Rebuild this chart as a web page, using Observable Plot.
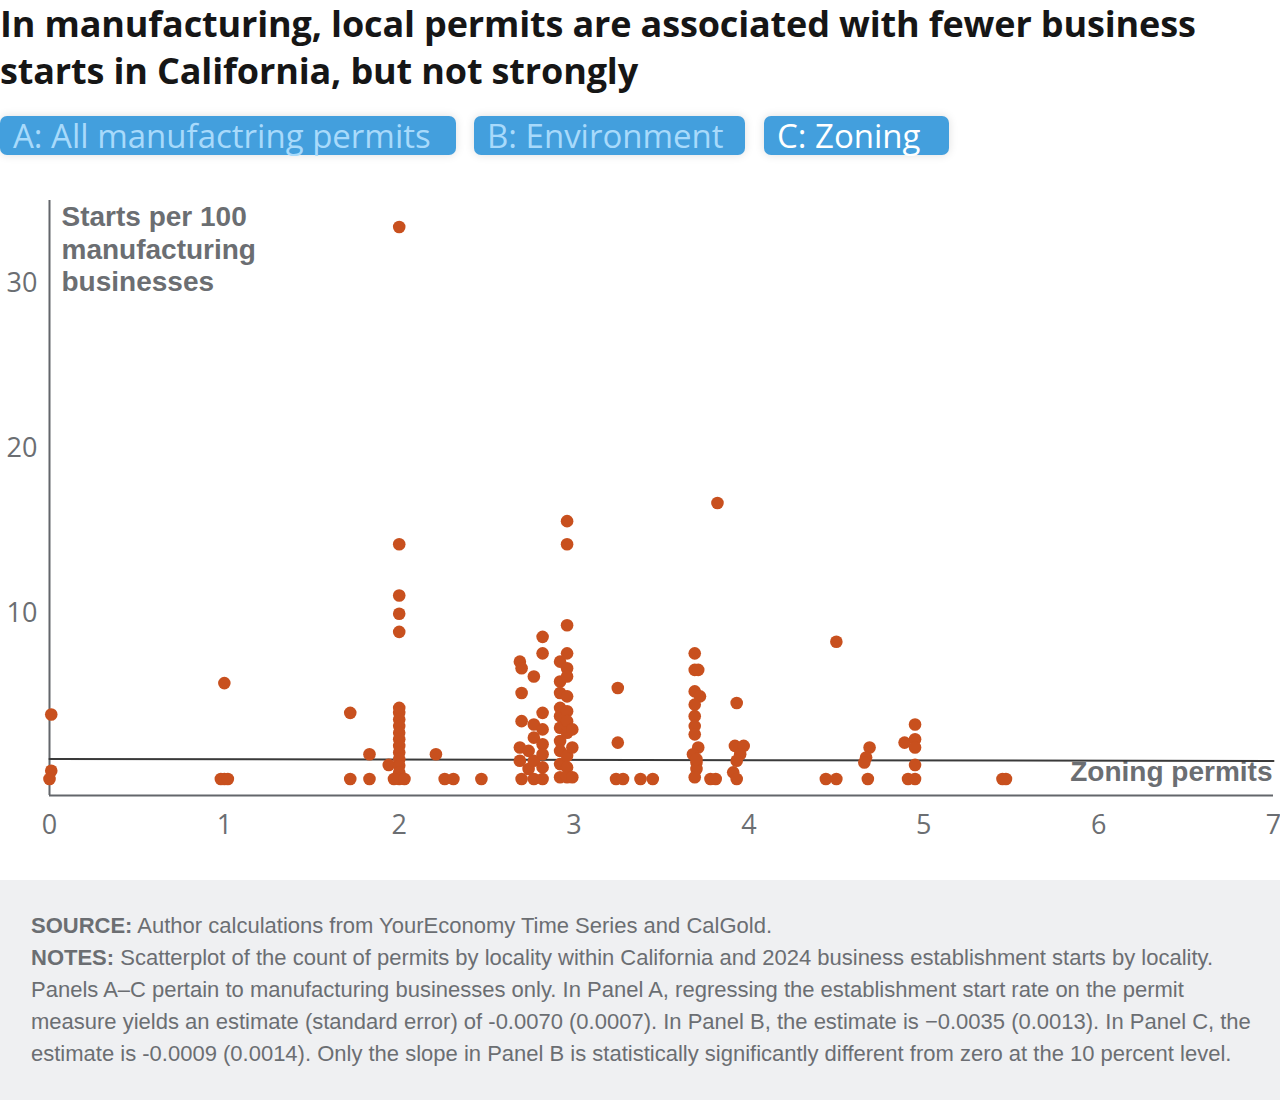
<!DOCTYPE html>
<html>
<head>
<meta charset="utf-8">
<script src="https://cdn.jsdelivr.net/npm/d3@7"></script>
<script src="https://cdn.jsdelivr.net/npm/@observablehq/plot@0.6"></script>
<style>
  html, body { margin: 0; padding: 0; background: #fff; }
  body { width: 1280px; height: 1100px; position: relative; overflow: hidden; font-family: "Liberation Sans", Arial, sans-serif; }
  h1 { position: absolute; left: 0; top: 0; margin: 0; width: 1275px; font: 700 36px/47px "Open Sans", sans-serif; color: #161616; letter-spacing: -0.15px; }
  .tabs { position: absolute; top: 116px; left: 0; height: 39px; }
  .tab { position: absolute; top: 0; height: 39px; box-sizing: border-box; padding-left: 13px; border-radius: 7px; background: #439fdd; color: #a8dafb; font: 400 33px/39px "Open Sans", sans-serif; white-space: nowrap; box-shadow: 0 0 10px rgba(0,0,0,0.13); }
  .tab.active { color: #fff; }
  #chart { position: absolute; top: 170px; left: 0; }
  footer { position: absolute; top: 880px; left: 0; width: 1280px; height: 220px; background: #eff0f2; box-sizing: border-box; padding: 30px 0 0 31px; font: 400 22px/32px "Liberation Sans", Arial, sans-serif; color: #6b6e72; }
  footer b { font-weight: 700; }
</style>
</head>
<body>
<h1>In manufacturing, local permits are associated with fewer business<br>starts in California, but not strongly</h1>
<div class="tabs" id="tabs"></div>
<div id="chart"></div>
<footer id="footer"></footer>
<script>
// Panel selector labels (C is the panel shown)
const panelLabels = ["A: All manufactring permits", "B: Environment", "C: Zoning"];
const panelLefts = [0, 474, 764];
const panelWidths = [456, 271, 185];
const activePanel = 2;

// Localities: count of zoning permits and manufacturing starts per 100 businesses
const zoningPermits = [
  0.01, 0.01, 0.00,
  1.00, 0.98, 1.00, 1.02,
  1.72, 1.72, 1.83, 1.83, 1.94,
  2.00, 2.00, 2.00, 2.00, 2.00, 2.00, 2.00, 2.00, 2.00, 2.00, 2.00, 2.00, 2.00, 2.00, 2.00, 2.00, 2.00, 1.97, 2.03,
  2.21, 2.26, 2.31, 2.47,
  2.69, 2.70, 2.70, 2.70, 2.69, 2.69, 2.70, 2.74, 2.74,
  2.77, 2.77, 2.77, 2.77, 2.77,
  2.82, 2.82, 2.82, 2.82, 2.82, 2.82, 2.82, 2.82,
  2.92, 2.92, 2.92, 2.92, 2.92, 2.92, 2.92, 2.92, 2.92, 2.92,
  2.96, 2.96, 2.96, 2.96, 2.96, 2.96, 2.96, 2.96, 2.96, 2.96, 2.96, 2.96, 2.96,
  2.99, 2.99, 2.99,
  3.25, 3.25, 3.24, 3.28, 3.38, 3.45,
  3.69, 3.69, 3.71, 3.69, 3.72, 3.69, 3.69, 3.69, 3.69, 3.71, 3.68, 3.70, 3.70, 3.69, 3.70, 3.78, 3.81,
  3.82,
  3.93, 3.92, 3.97, 3.95, 3.93, 3.91, 3.93,
  4.50, 4.44, 4.50,
  4.69, 4.67, 4.66, 4.68,
  4.89, 4.95, 4.95, 4.95, 4.95, 4.91, 4.95,
  5.45, 5.47
];
const startsPer100 = [
  3.9, 0.5, 0.0,
  5.8, 0.0, 0.0, 0.0,
  4.0, 0.0, 1.5, 0.0, 0.85,
  33.4, 14.2, 11.1, 10.0, 8.9, 4.3, 4.0, 3.6, 3.2, 2.8, 2.4, 2.0, 1.6, 1.2, 0.8, 0.4, 0.0, 0.0, 0.0,
  1.5, 0.0, 0.0, 0.0,
  7.1, 6.7, 5.2, 3.5, 1.9, 1.1, 0.0, 1.7, 0.6,
  6.2, 3.3, 2.5, 1.1, 0.0,
  8.6, 7.6, 4.0, 3.0, 2.1, 1.5, 0.7, 0.0,
  7.1, 5.9, 5.2, 4.3, 3.8, 3.1, 2.3, 1.7, 0.9, 0.1,
  15.6, 14.2, 9.3, 7.6, 6.7, 6.2, 5.0, 4.1, 3.5, 2.8, 1.4, 0.7, 0.1,
  1.9, 3.0, 0.1,
  5.5, 2.2, 0.0, 0.0, 0.0, 0.0,
  7.6, 6.6, 6.6, 5.3, 5.0, 4.5, 3.8, 3.2, 2.7, 1.9, 1.5, 1.0, 0.6, 0.1, 1.2, 0.0, 0.0,
  16.7,
  4.6, 2.0, 2.0, 1.5, 1.1, 0.4, 0.0,
  8.3, 0.0, 0.0,
  1.9, 1.3, 1.0, 0.0,
  2.2, 3.3, 2.4, 1.9, 0.85, 0.0, 0.0,
  0.0, 0.0
];

// Fitted regression line (Panel C)
const fitPermits = [0, 7];
const fitStarts = [1.21, 1.09];

// Axis ticks
const xTicks = [0, 1, 2, 3, 4, 5, 6, 7];
const yTicks = [10, 20, 30];

const axisColor = "#63666b";
const labelColor = "#6b6e72";
const dotColor = "#c8501e";

// Panel tabs
const tabs = document.getElementById("tabs");
panelLabels.forEach((label, i) => {
  const el = document.createElement("div");
  el.className = "tab" + (i === activePanel ? " active" : "");
  el.style.left = panelLefts[i] + "px";
  el.style.width = panelWidths[i] + "px";
  el.textContent = label;
  tabs.appendChild(el);
});

const points = zoningPermits.map((x, i) => ({x, y: startsPer100[i]}));
const fit = fitPermits.map((x, i) => ({x, y: fitStarts[i]}));

const chart = Plot.plot({
  width: 1280,
  height: 700,
  marginLeft: 49,
  marginRight: 7,
  marginTop: 30,
  marginBottom: 75,
  style: { fontFamily: "'Open Sans', sans-serif", background: "transparent", overflow: "visible" },
  x: { domain: [0, 7] },
  y: { domain: [-1, 35] },
  marks: [
    Plot.axisY({ ticks: yTicks, tickFormat: "d", tickSize: 0, tickPadding: 12, fontSize: 27, color: labelColor, label: null }),
    Plot.axisX({ ticks: xTicks, tickFormat: "d", tickSize: 0, tickPadding: 19, fontSize: 27, color: labelColor, label: null }),
    Plot.ruleX([0], { y1: -1, y2: 35, stroke: axisColor, strokeWidth: 2 }),
    Plot.ruleY([-1], { stroke: axisColor, strokeWidth: 2 }),
    Plot.text(["Starts per 100\nmanufacturing\nbusinesses"], {
      frameAnchor: "top-left", textAnchor: "start", lineAnchor: "top", dx: 12, dy: 3,
      lineHeight: 1.15, fontSize: 28, fontWeight: 700, fill: labelColor,
      fontFamily: "'Liberation Sans', Arial, sans-serif"
    }),
    Plot.text(["Zoning permits"], {
      frameAnchor: "bottom-right", textAnchor: "end", lineAnchor: "bottom", dx: -1, dy: -15,
      fontSize: 28, fontWeight: 700, fill: labelColor,
      fontFamily: "'Liberation Sans', Arial, sans-serif"
    }),
    Plot.line(fit, { x: "x", y: "y", stroke: "#3a3a3a", strokeWidth: 2 }),
    Plot.dot(points, { x: "x", y: "y", r: 6.3, fill: dotColor, stroke: "none" })
  ]
});
document.getElementById("chart").appendChild(chart);

// Source and notes
document.getElementById("footer").innerHTML =
  "<b>SOURCE:</b> Author calculations from YourEconomy Time Series and CalGold.<br>" +
  "<b>NOTES:</b> Scatterplot of the count of permits by locality within California and 2024 business establishment starts by locality.<br>" +
  "Panels A–C pertain to manufacturing businesses only. In Panel A, regressing the establishment start rate on the permit<br>" +
  "measure yields an estimate (standard error) of -0.0070 (0.0007). In Panel B, the estimate is −0.0035 (0.0013). In Panel C, the<br>" +
  "estimate is -0.0009 (0.0014). Only the slope in Panel B is statistically significantly different from zero at the 10 percent level.";
</script>
</body>
</html>
